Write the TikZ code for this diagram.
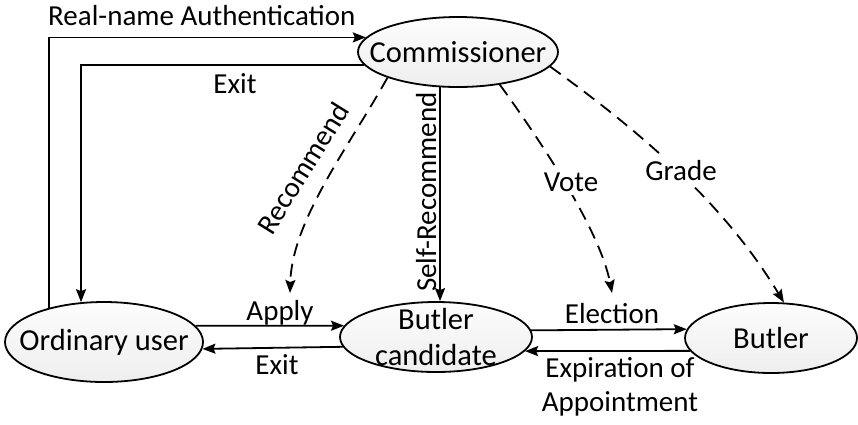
\documentclass[tikz,border=0pt]{standalone}
\usepackage{fontspec}
\setmainfont{Carlito}
\usetikzlibrary{shapes.geometric,arrows.meta}
\begin{document}
\begin{tikzpicture}[x=1pt,y=-1pt,
  lbl/.style={font=\fontsize{29}{34}\selectfont, inner sep=0pt},
  tag/.style={lbl, fill=white, inner sep=4pt},
  state/.style={ellipse, draw, line width=1.8pt, inner xsep=-25pt, inner ysep=-12pt,
    top color=gray!2, bottom color=gray!13, font=\fontsize{30.5}{34}\selectfont},
  flow/.style={line width=1.8pt, -{Stealth[length=13pt,width=10pt,inset=2pt]}},
  hint/.style={flow, dash pattern=on 13pt off 8pt},
]
\useasboundingbox (0,0) rectangle (858,424);

% states
\node[state, minimum width=200pt, minimum height=70pt] (com) at (458,52) {Commissioner};
\node[state, minimum width=198pt, minimum height=80pt] (ou) at (104,342) {Ordinary user};
\node[state, minimum width=192pt, minimum height=70pt, align=center] (bc) at (436,337) {Butler\\[2pt]candidate};
\node[state, minimum width=172pt, minimum height=70pt] (bu) at (771,338) {Butler};

% free ends of the dashed hints
\coordinate (recTip) at (290,293);
\coordinate (voteTip) at (612,293);

% solid transitions
\draw[flow] (ou.148.2) |- (com.171.3);
\draw[flow] (com.188.7) -| (ou.120.6);
\draw[flow] (ou.10) -- (bc.173.1);
\draw[flow] (bc.186.9) -- (ou.356.5);
\draw[flow] (bc.4.3) -- (bu.174.5);
\draw[flow] (bu.189.3) -- (bc.351);
\draw[flow] (com.243.8) -- (com.243.8 |- bc.north);

% dashed influences
\draw[hint] (com.200) .. controls (350,145) and (292,220) .. (recTip);
\draw[hint] (com.322.9) .. controls (540,140) and (600,230) .. (voteTip);
\draw[hint] (com.351) .. controls (645,135) and (725,205) .. (bu.70);

% labels
\node[lbl, anchor=base west] (tAuth) at (48,25) {Real-name Authentication};
\node[lbl, anchor=base] (tExitTop) at (235,93) {Exit};
\node[lbl, anchor=base] (tApply) at (280,320) {Apply};
\node[lbl, anchor=base] (tExitLow) at (277,374) {Exit};
\node[lbl, anchor=base] (tElect) at (612,323) {Election};
\node[lbl, anchor=base] (tExpA) at (620,377) {Expiration of};
\node[lbl, anchor=base] (tExpB) at (620,411) {Appointment};
\node[lbl, rotate=90, anchor=base] (tSelf) at (436,192) {Self-Recommend};
\node[lbl, rotate=58] (tRec) at (303,168) {Recommend};
\node[tag] (tVote) at (571,182) {Vote};
\node[tag] (tGrade) at (681,171) {Grade};
\end{tikzpicture}
\end{document}
